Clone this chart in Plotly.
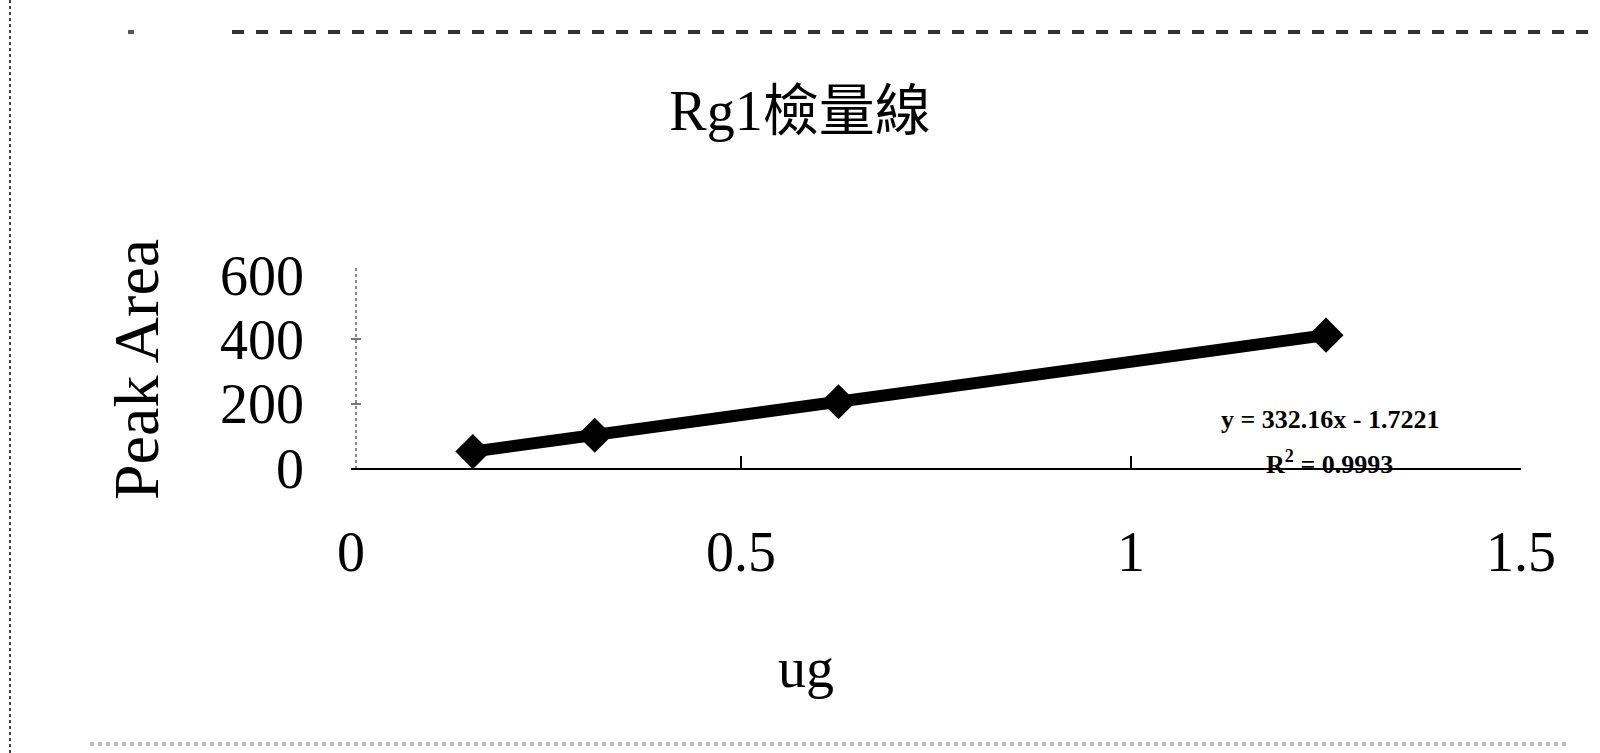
import plotly.graph_objects as go

# Rg1 calibration data
amount_ug = [0.15625, 0.3125, 0.625, 1.25]
peak_area = [51, 102, 206, 413]

x_ticks = [0, 0.5, 1, 1.5]
x_tick_text = ["0", "0.5", "1", "1.5"]
y_ticks = [0, 200, 400, 600]
y_tick_text = ["0", "200", "400", "600"]

fit_text = "y = 332.16x - 1.7221"
r2_text = "R<sup>2</sup> = 0.9993"

W, H = 1600, 753
L, R, T, B = 351, 79, 275, 285
PW, PH = W - L - R, H - T - B

SERIF = "Liberation Serif, Times New Roman, serif"
TITLE_FONT = "Liberation Serif, Noto Sans CJK TC, serif"


def px(xp):
    return (xp - L) / PW


def py(yp):
    return (H - B - yp) / PH


fig = go.Figure()
fig.add_trace(go.Scatter(
    x=amount_ug, y=peak_area,
    mode="lines+markers",
    line=dict(color="black", width=12),
    marker=dict(symbol="diamond", size=27, color="black"),
    showlegend=False,
))

fig.update_layout(
    width=W, height=H,
    margin=dict(l=L, r=R, t=T, b=B),
    paper_bgcolor="white", plot_bgcolor="white",
    title=dict(text="Rg1檢量線", x=0.5, xref="container", xanchor="center",
               y=1 - 110 / H, yref="container", yanchor="middle",
               font=dict(family=TITLE_FONT, size=56, color="black")),
    xaxis=dict(range=[0, 1.5], tickvals=x_ticks, ticktext=x_tick_text,
               showgrid=False, zeroline=False, showline=True,
               linecolor="black", linewidth=2,
               ticks="inside", ticklen=12, tickcolor="black", tickwidth=2,
               ticklabelstandoff=34,
               tickfont=dict(family=SERIF, size=56, color="black")),
    yaxis=dict(range=[0, 600], tickvals=y_ticks, ticktext=y_tick_text,
               showgrid=False, zeroline=False, showline=False,
               ticks="inside", ticklen=10, tickcolor="#777", tickwidth=2,
               ticklabelstandoff=46,
               tickfont=dict(family=SERIF, size=56, color="black")),
)

annotations = [
    dict(text="Peak Area", x=px(136), y=py(369), xref="paper", yref="paper",
         textangle=-90, showarrow=False, xanchor="center", yanchor="middle",
         font=dict(family=SERIF, size=64, color="black")),
    dict(text="ug", x=px(806), y=py(668), xref="paper", yref="paper",
         showarrow=False, xanchor="center", yanchor="middle",
         font=dict(family=SERIF, size=56, color="black")),
    dict(text="<b>" + fit_text + "</b>", x=px(1330), y=py(419), xref="paper", yref="paper",
         showarrow=False, xanchor="center", yanchor="middle",
         font=dict(family=SERIF, size=26, color="black")),
    dict(text="<b>" + r2_text + "</b>", x=px(1329), y=py(462), xref="paper", yref="paper",
         showarrow=False, xanchor="center", yanchor="middle",
         font=dict(family=SERIF, size=26, color="black")),
]
fig.update_layout(annotations=annotations)

shapes = [
    # dotted y-axis line
    dict(type="line", xref="paper", yref="paper", x0=px(356), x1=px(356),
         y0=py(268), y1=py(468), line=dict(color="#888", width=2, dash="dot")),
    # page rule along the top
    dict(type="line", xref="paper", yref="paper", x0=px(232), x1=px(1600),
         y0=py(32), y1=py(32), line=dict(color="#333", width=4, dash="dash")),
    dict(type="line", xref="paper", yref="paper", x0=px(128), x1=px(134),
         y0=py(32), y1=py(32), line=dict(color="#555", width=4)),
    # page border on the left
    dict(type="line", xref="paper", yref="paper", x0=px(10), x1=px(10),
         y0=py(0), y1=py(753), line=dict(color="#444", width=2, dash="dot")),
    # faint rule along the bottom
    dict(type="line", xref="paper", yref="paper", x0=px(90), x1=px(1570),
         y0=py(744), y1=py(744), line=dict(color="#bbb", width=4, dash="dot")),
]
fig.update_layout(shapes=shapes)

fig.write_html("out.html")
